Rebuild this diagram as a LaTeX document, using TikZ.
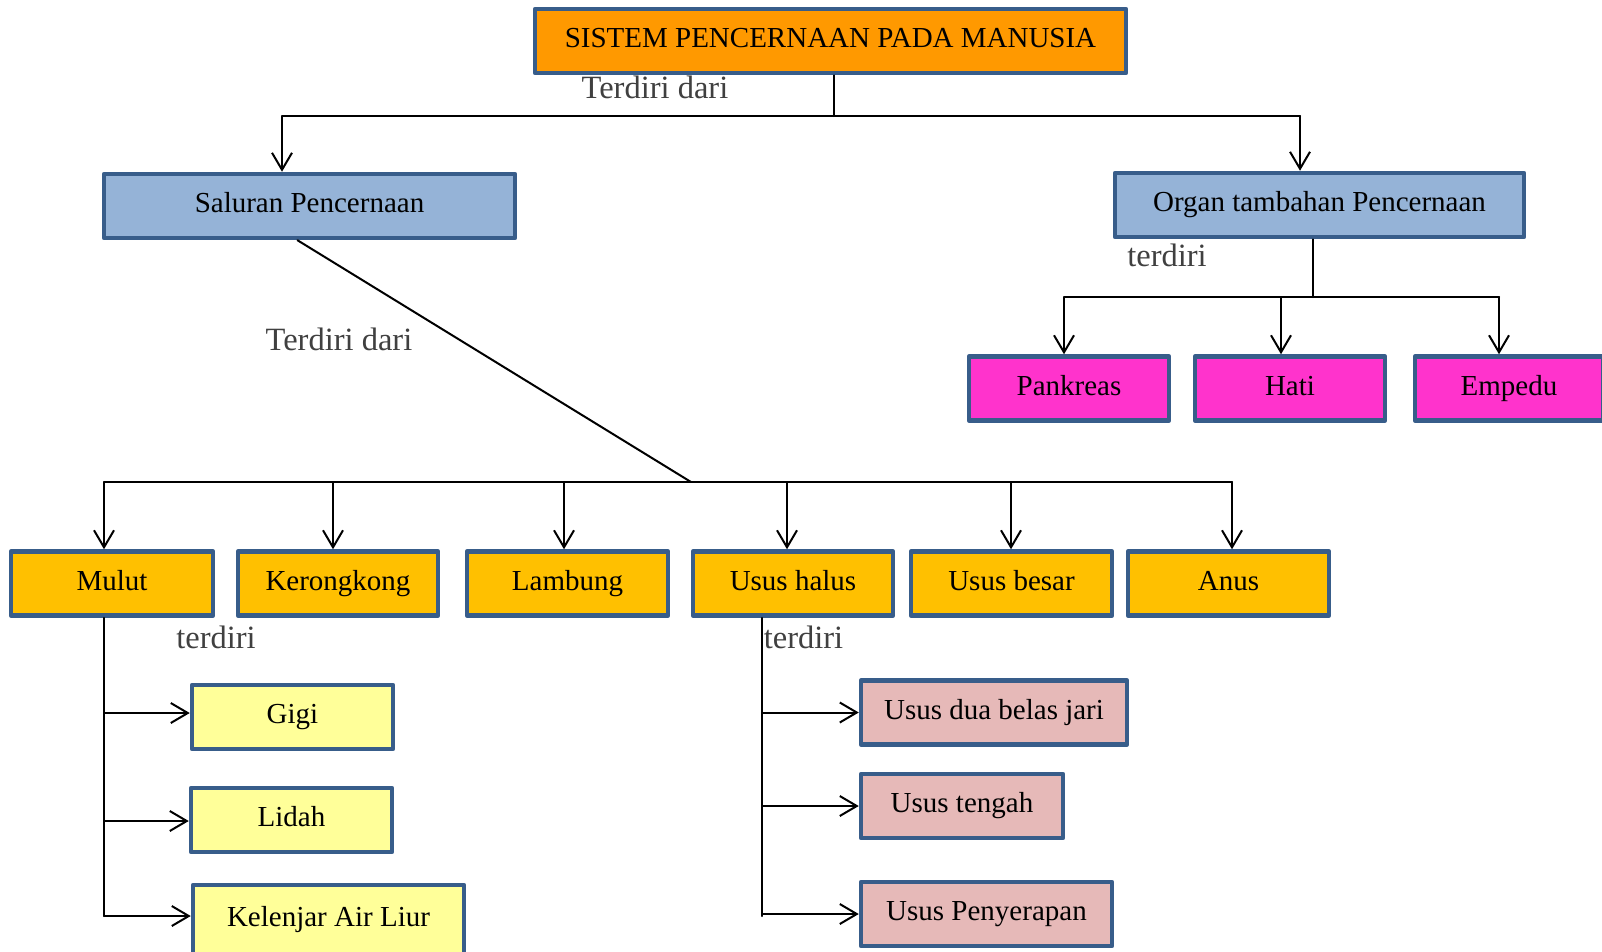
\documentclass[tikz,border=0pt]{standalone}
\usepackage{fontspec}
\setmainfont{Liberation Serif}
\usepackage{xcolor}
\usepackage{tikz}
\usetikzlibrary{calc}
\usetikzlibrary{arrows.meta}
\definecolor{ffkqq}{HTML}{FF9900}
\definecolor{kbsdf}{HTML}{95B3D7}
\definecolor{ffdcc}{HTML}{FF33CC}
\definecolor{ffcqq}{HTML}{FFC000}
\definecolor{ffffk}{HTML}{FFFF99}
\definecolor{ebkbk}{HTML}{E6B9B8}
\definecolor{dfdfa}{HTML}{385D8A}
\definecolor{abuabu}{HTML}{404040}
\tikzstyle{kotak}=[draw=dfdfa,line width=4.5pt,inner sep=0pt,minimum height=64pt,text height=19pt,text depth=6pt,font=\fontsize{29}{31}\selectfont]
\tikzstyle{ket}=[inner sep=0pt,text=abuabu,font=\fontsize{32.5}{34}\selectfont]

\begin{document}
\begin{tikzpicture}[line cap=round,line join=round,>={Straight Barb[length=17pt,width=20pt]},x=1pt,y=-1pt,line width=2pt]
        \clip(0,0) rectangle (1602,951);
        % kotak utama
        \node[kotak,fill=ffkqq,minimum width=591pt] (sistem) at (830.5,41) {SISTEM PENCERNAAN PADA MANUSIA};
        \node[kotak,fill=kbsdf,minimum width=411pt] (saluran) at (309.5,206) {Saluran Pencernaan};
        \node[kotak,fill=kbsdf,minimum width=409pt] (organ) at (1319.5,205) {Organ tambahan Pencernaan};
        \node[kotak,fill=ffdcc,minimum width=200pt] (pankreas) at (1069,388.5) {Pankreas};
        \node[kotak,fill=ffdcc,minimum width=190pt] (hati) at (1290,388.5) {Hati};
        \node[kotak,fill=ffdcc,minimum width=188pt] (empedu) at (1509,388.5) {Empedu};
        \node[kotak,fill=ffcqq,minimum width=202pt] (mulut) at (112,583.5) {Mulut};
        \node[kotak,fill=ffcqq,minimum width=200pt] (kerongkong) at (338,583.5) {Kerongkong};
        \node[kotak,fill=ffcqq,minimum width=201pt] (lambung) at (567.5,583.5) {Lambung};
        \node[kotak,fill=ffcqq,minimum width=200pt] (usushalus) at (793,583.5) {Usus halus};
        \node[kotak,fill=ffcqq,minimum width=201pt] (ususbesar) at (1011.5,583.5) {Usus besar};
        \node[kotak,fill=ffcqq,minimum width=201pt] (anus) at (1228.5,583.5) {Anus};
        \node[kotak,fill=ffffk,minimum width=201pt] (gigi) at (292.5,717) {Gigi};
        \node[kotak,fill=ffffk,minimum width=201pt] (lidah) at (291.5,820) {Lidah};
        \node[kotak,fill=ffffk,minimum width=271pt,minimum height=70pt] (kelenjar) at (328.5,920) {Kelenjar Air Liur};
        \node[kotak,fill=ebkbk,minimum width=266pt] (duabelas) at (994,712.5) {Usus dua belas jari};
        \node[kotak,fill=ebkbk,minimum width=202pt] (tengah) at (962,806) {Usus tengah};
        \node[kotak,fill=ebkbk,minimum width=251pt] (serap) at (986.5,914) {Usus Penyerapan};
        % keterangan
        \node[ket] (ket1) at (655,87) {Terdiri dari};
        \node[ket] (ket2) at (1167,255) {terdiri};
        \node[ket] (ket3) at (339,339) {Terdiri dari};
        \node[ket] (ket4) at (216,637.5) {terdiri};
        \node[ket] (ket5) at (803.5,637.5) {terdiri};
        % garis dari judul
        \coordinate (jtop) at (834,116);
        \coordinate (jsal) at (282,116);
        \coordinate (jorg) at (1300,116);
        \draw (sistem.south -| jtop) -- (jtop);
        \draw (jsal) -- (jorg);
        \draw [->] (jsal) -- (jsal |- saluran.north);
        \draw [->] (jorg) -- (jorg |- organ.north);
        % organ tambahan
        \coordinate (jorgb) at (1313,297);
        \draw (organ.south -| jorgb) -- (jorgb);
        \draw (1064,297) -- (1499,297);
        \foreach \n/\x in {pankreas/1064,hati/1281,empedu/1499}
        {
            \coordinate (a\n) at (\x,297);
            \draw [->] (a\n) -- (\x,297 |- \n.north);
        }
        % saluran pencernaan
        \coordinate (jrow) at (691,482);
        \draw ([xshift=-12pt]saluran.south) -- (jrow);
        \draw (104,482) -- (1232,482);
        \foreach \n/\x in {mulut/104,kerongkong/333,lambung/564,usushalus/787,ususbesar/1011,anus/1232}
        {
            \coordinate (a\n) at (\x,482);
            \draw [->] (a\n) -- (\x,482 |- \n.north);
        }
        % cabang mulut
        \coordinate (jmul) at (104,916);
        \draw (mulut.south -| jmul) -- (jmul);
        \foreach \n/\y in {gigi/713,lidah/821,kelenjar/916}
            \draw [->] (104,\y) -- (\n.west |- 0,\y);
        % cabang usus halus
        \coordinate (jusus) at (762,916);
        \draw (usushalus.south -| jusus) -- (jusus);
        \foreach \n in {duabelas,tengah,serap}
            \draw [->] (jusus |- \n.west) -- (\n.west);
        \end{tikzpicture}
\end{document}
